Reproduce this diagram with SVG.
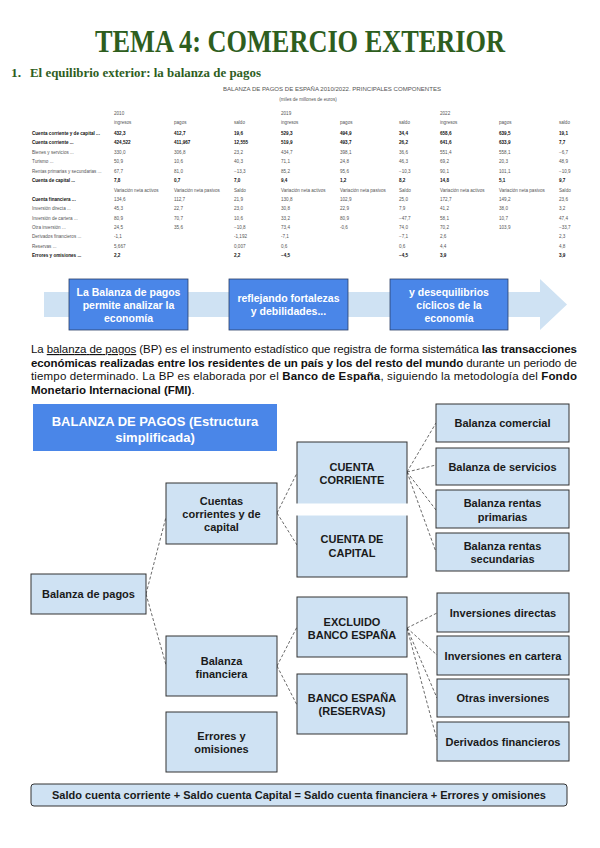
<svg xmlns="http://www.w3.org/2000/svg" width="600" height="848" viewBox="0 0 600 848">
<style>
.title{font-family:"Liberation Serif","DejaVu Serif",serif;font-weight:bold;fill:#2e5e1e}
.t{font-family:"Liberation Sans",Arial,sans-serif;font-size:4.6px;fill:#555}
.tb{font-weight:bold;fill:#111}
.p{font-family:"Liberation Sans",Arial,sans-serif;font-size:11.5px;fill:#111}
.b{font-weight:bold}
.wt{font-family:"Liberation Sans",Arial,sans-serif;font-size:10.5px;font-weight:bold;fill:#fff;text-anchor:middle}
.box{fill:#cfe2f3;stroke:#333;stroke-width:1}
.blue{fill:#4a86e8;stroke:#2b3f66;stroke-width:0.8}
.lbl{font-family:"Liberation Sans",Arial,sans-serif;font-size:11px;font-weight:bold;fill:#1a1a1a;text-anchor:middle}
.head{font-family:"Liberation Sans",Arial,sans-serif;font-size:13px;font-weight:bold;fill:#fff;text-anchor:middle}
.conn line{stroke:#444;stroke-width:0.8;stroke-dasharray:3 2;fill:none}
</style>
<rect width="600" height="848" fill="#fff"/>

<!-- Header -->
<text class="title" x="300" y="52" font-size="32" text-anchor="middle" textLength="410" lengthAdjust="spacingAndGlyphs">TEMA 4: COMERCIO EXTERIOR</text>
<text class="title" x="11" y="77" font-size="13.5">1.</text>
<text class="title" x="30" y="77" font-size="13.5" textLength="231" lengthAdjust="spacingAndGlyphs">El equilibrio exterior: la balanza de pagos</text>

<!-- Table -->
<g id="table">
<text class="t" x="332" y="91" font-size="5.2" text-anchor="middle" textLength="218" lengthAdjust="spacingAndGlyphs">BALANZA DE PAGOS DE ESPAÑA 2010/2022. PRINCIPALES COMPONENTES</text>
<text class="t" x="308" y="101" text-anchor="middle">(miles de millones de euros)</text>
<text class="t" y="114.5"><tspan x="114">2010</tspan><tspan x="281">2019</tspan><tspan x="440">2022</tspan></text>
<text class="t" y="124"><tspan x="114">ingresos</tspan><tspan x="174">pagos</tspan><tspan x="234">saldo</tspan><tspan x="281">ingresos</tspan><tspan x="340">pagos</tspan><tspan x="399">saldo</tspan><tspan x="440">ingresos</tspan><tspan x="499">pagos</tspan><tspan x="559">saldo</tspan></text>
<text class="t tb" y="134.5"><tspan x="32">Cuenta corriente y de capital ...</tspan><tspan x="114">432,3</tspan><tspan x="174">412,7</tspan><tspan x="234">19,6</tspan><tspan x="281">529,3</tspan><tspan x="340">494,9</tspan><tspan x="399">34,4</tspan><tspan x="440">658,6</tspan><tspan x="499">639,5</tspan><tspan x="559">19,1</tspan></text>
<text class="t tb" y="144"><tspan x="32">Cuenta corriente ...</tspan><tspan x="114">424,522</tspan><tspan x="174">411,967</tspan><tspan x="234">12,555</tspan><tspan x="281">519,9</tspan><tspan x="340">493,7</tspan><tspan x="399">26,2</tspan><tspan x="440">641,6</tspan><tspan x="499">633,9</tspan><tspan x="559">7,7</tspan></text>
<text class="t" y="154"><tspan x="32">Bienes y servicios ...</tspan><tspan x="114">330,0</tspan><tspan x="174">306,8</tspan><tspan x="234">23,2</tspan><tspan x="281">434,7</tspan><tspan x="340">398,1</tspan><tspan x="399">36,6</tspan><tspan x="440">551,4</tspan><tspan x="499">558,1</tspan><tspan x="559">−6,7</tspan></text>
<text class="t" y="163"><tspan x="32">Turismo ...</tspan><tspan x="114">50,9</tspan><tspan x="174">10,6</tspan><tspan x="234">40,3</tspan><tspan x="281">71,1</tspan><tspan x="340">24,8</tspan><tspan x="399">46,3</tspan><tspan x="440">69,2</tspan><tspan x="499">20,3</tspan><tspan x="559">48,9</tspan></text>
<text class="t" y="173"><tspan x="32">Rentas primarias y secundarias ...</tspan><tspan x="114">67,7</tspan><tspan x="174">81,0</tspan><tspan x="234">−13,3</tspan><tspan x="281">85,2</tspan><tspan x="340">95,6</tspan><tspan x="399">−10,3</tspan><tspan x="440">90,1</tspan><tspan x="499">101,1</tspan><tspan x="559">−10,9</tspan></text>
<text class="t tb" y="182"><tspan x="32">Cuenta de capital ...</tspan><tspan x="114">7,8</tspan><tspan x="174">0,7</tspan><tspan x="234">7,0</tspan><tspan x="281">9,4</tspan><tspan x="340">1,2</tspan><tspan x="399">8,2</tspan><tspan x="440">14,8</tspan><tspan x="499">5,1</tspan><tspan x="559">9,7</tspan></text>
<text class="t" y="191.5"><tspan x="114">Variación neta activos</tspan><tspan x="174">Variación neta pasivos</tspan><tspan x="234">Saldo</tspan><tspan x="281">Variación neta activos</tspan><tspan x="340">Variación neta pasivos</tspan><tspan x="399">Saldo</tspan><tspan x="440">Variación neta activos</tspan><tspan x="499">Variación neta pasivos</tspan><tspan x="559">Saldo</tspan></text>
<text class="t" y="200.5"><tspan x="32" class="tb">Cuenta financiera ...</tspan><tspan x="114">134,6</tspan><tspan x="174">112,7</tspan><tspan x="234">21,9</tspan><tspan x="281">130,8</tspan><tspan x="340">102,9</tspan><tspan x="399">25,0</tspan><tspan x="440">172,7</tspan><tspan x="499">149,2</tspan><tspan x="559">23,6</tspan></text>
<text class="t" y="210"><tspan x="32">Inversión directa ...</tspan><tspan x="114">45,3</tspan><tspan x="174">22,7</tspan><tspan x="234">23,0</tspan><tspan x="281">30,8</tspan><tspan x="340">22,9</tspan><tspan x="399">7,9</tspan><tspan x="440">41,2</tspan><tspan x="499">38,0</tspan><tspan x="559">3,2</tspan></text>
<text class="t" y="219.5"><tspan x="32">Inversión de cartera ...</tspan><tspan x="114">80,9</tspan><tspan x="174">70,7</tspan><tspan x="234">10,6</tspan><tspan x="281">33,2</tspan><tspan x="340">80,9</tspan><tspan x="399">−47,7</tspan><tspan x="440">58,1</tspan><tspan x="499">10,7</tspan><tspan x="559">47,4</tspan></text>
<text class="t" y="228.5"><tspan x="32">Otra inversión ...</tspan><tspan x="114">24,5</tspan><tspan x="174">35,6</tspan><tspan x="234">−10,8</tspan><tspan x="281">73,4</tspan><tspan x="340">-0,6</tspan><tspan x="399">74,0</tspan><tspan x="440">70,2</tspan><tspan x="499">103,9</tspan><tspan x="559">−33,7</tspan></text>
<text class="t" y="238"><tspan x="32">Derivados financieros ...</tspan><tspan x="114">-1,1</tspan><tspan x="234">-1,192</tspan><tspan x="281">-7,1</tspan><tspan x="399">−7,1</tspan><tspan x="440">2,6</tspan><tspan x="559">2,3</tspan></text>
<text class="t" y="247.5"><tspan x="32">Reservas ...</tspan><tspan x="114">5,667</tspan><tspan x="234">0,007</tspan><tspan x="281">0,6</tspan><tspan x="399">0,6</tspan><tspan x="440">4,4</tspan><tspan x="559">4,8</tspan></text>
<text class="t tb" y="257"><tspan x="32">Errores y omisiones ...</tspan><tspan x="114">2,2</tspan><tspan x="234">2,2</tspan><tspan x="281">−4,5</tspan><tspan x="399">−4,5</tspan><tspan x="440">3,9</tspan><tspan x="559">3,9</tspan></text>
</g>

<!-- Process arrow -->
<g id="process">
<polygon points="44,292 540,292 540,279 567,304.5 540,330 540,317 44,317" fill="#cfe2f3"/>
<g id="step1"><rect class="blue" x="69" y="279" width="119" height="51"/>
<text class="wt"><tspan x="128.5" y="296">La Balanza de pagos</tspan><tspan x="128.5" y="309">permite analizar la</tspan><tspan x="128.5" y="322">economía</tspan></text></g>
<g id="step2"><rect class="blue" x="229" y="279" width="119" height="51"/>
<text class="wt"><tspan x="288.5" y="302">reflejando fortalezas</tspan><tspan x="288.5" y="315">y debilidades...</tspan></text></g>
<g id="step3"><rect class="blue" x="390" y="279" width="118" height="51"/>
<text class="wt"><tspan x="449" y="296">y desequilibrios</tspan><tspan x="449" y="309">cíclicos de la</tspan><tspan x="449" y="322">economía</tspan></text></g>
</g>

<!-- Paragraph -->
<text class="p" x="31" y="353" textLength="546" lengthAdjust="spacing">La <tspan text-decoration="underline">balanza de pagos</tspan> (BP) es el instrumento estadístico que registra de forma sistemática <tspan class="b">las transacciones</tspan></text>
<text class="p" x="31" y="366.7" textLength="546" lengthAdjust="spacing"><tspan class="b">económicas realizadas entre los residentes de un país y los del resto del mundo</tspan> durante un periodo de</text>
<text class="p" x="31" y="380.3" textLength="546" lengthAdjust="spacing">tiempo determinado. La BP es elaborada por el <tspan class="b">Banco de España</tspan>, siguiendo la metodología del <tspan class="b">Fondo</tspan></text>
<text class="p" x="31" y="394"><tspan class="b">Monetario Internacional (FMI)</tspan>.</text>

<!-- Connectors -->
<g id="connectors" class="conn">
<line x1="146" y1="594" x2="166" y2="517"/>
<line x1="146" y1="594" x2="166" y2="665"/>
<line x1="277" y1="513" x2="297" y2="473"/>
<line x1="277" y1="513" x2="297" y2="545"/>
<line x1="407" y1="472" x2="436" y2="423"/>
<line x1="407" y1="472" x2="436" y2="465"/>
<line x1="407" y1="472" x2="436" y2="510"/>
<line x1="407" y1="472" x2="436" y2="552"/>
<line x1="277" y1="666" x2="297" y2="627"/>
<line x1="277" y1="666" x2="297" y2="705"/>
<line x1="407" y1="628" x2="437" y2="613"/>
<line x1="407" y1="628" x2="437" y2="655"/>
<line x1="407" y1="628" x2="437" y2="698"/>
<line x1="407" y1="628" x2="437" y2="740"/>
</g>

<!-- Nodes -->
<g id="n-title"><rect x="33" y="404" width="244" height="47" fill="#4a86e8"/>
<text class="head"><tspan x="155" y="426">BALANZA DE PAGOS (Estructura</tspan><tspan x="155" y="442">simplificada)</tspan></text></g>
<g id="n-bp"><rect class="box" x="31" y="574" width="115" height="40"/><text class="lbl" x="88.5" y="598">Balanza de pagos</text></g>
<g id="n-cuentas"><rect class="box" x="166" y="483" width="111" height="61"/><text class="lbl"><tspan x="221.5" y="505">Cuentas</tspan><tspan x="221.5" y="518">corrientes y de</tspan><tspan x="221.5" y="531">capital</tspan></text></g>
<g id="n-bf"><rect class="box" x="166" y="636" width="111" height="60"/><text class="lbl"><tspan x="221.5" y="665">Balanza</tspan><tspan x="221.5" y="678">financiera</tspan></text></g>
<g id="n-eo"><rect class="box" x="166" y="712" width="111" height="60"/><text class="lbl"><tspan x="221.5" y="740">Errores y</tspan><tspan x="221.5" y="753">omisiones</tspan></text></g>
<g id="n-cc"><rect class="box" x="297" y="442" width="110" height="66"/><text class="lbl"><tspan x="352" y="471">CUENTA</tspan><tspan x="352" y="484">CORRIENTE</tspan></text></g>
<g id="n-ck"><rect class="box" x="297" y="511" width="110" height="66"/><rect x="295" y="503.5" width="114" height="12" fill="#fff"/><text class="lbl"><tspan x="352" y="543">CUENTA DE</tspan><tspan x="352" y="557">CAPITAL</tspan></text></g>
<g id="n-ex"><rect class="box" x="297" y="597" width="110" height="60"/><text class="lbl"><tspan x="352" y="626">EXCLUIDO</tspan><tspan x="352" y="639">BANCO ESPAÑA</tspan></text></g>
<g id="n-be"><rect class="box" x="297" y="674" width="110" height="60"/><text class="lbl"><tspan x="352" y="702">BANCO ESPAÑA</tspan><tspan x="352" y="715">(RESERVAS)</tspan></text></g>
<g id="n-bc"><rect class="box" x="436" y="404" width="133" height="38"/><text class="lbl" x="502.5" y="427">Balanza comercial</text></g>
<g id="n-bs"><rect class="box" x="436" y="448" width="133" height="37"/><text class="lbl" x="502.5" y="470.5">Balanza de servicios</text></g>
<g id="n-brp"><rect class="box" x="436" y="490" width="133" height="38"/><text class="lbl"><tspan x="502.5" y="507">Balanza rentas</tspan><tspan x="502.5" y="521">primarias</tspan></text></g>
<g id="n-brs"><rect class="box" x="436" y="533" width="133" height="38"/><text class="lbl"><tspan x="502.5" y="550">Balanza rentas</tspan><tspan x="502.5" y="563">secundarias</tspan></text></g>
<g id="n-id"><rect class="box" x="437" y="593" width="132" height="39"/><text class="lbl" x="503" y="616.5">Inversiones directas</text></g>
<g id="n-ic"><rect class="box" x="437" y="636" width="132" height="39"/><text class="lbl" x="503" y="659.5">Inversiones en cartera</text></g>
<g id="n-oi"><rect class="box" x="437" y="679" width="132" height="38"/><text class="lbl" x="503" y="702">Otras inversiones</text></g>
<g id="n-df"><rect class="box" x="437" y="722" width="132" height="39"/><text class="lbl" x="503" y="745.5">Derivados financieros</text></g>
<g id="n-formula"><rect class="box" x="31" y="784" width="536" height="22" rx="3"/><text class="lbl" x="299" y="799" textLength="494" lengthAdjust="spacingAndGlyphs">Saldo cuenta corriente + Saldo cuenta Capital = Saldo cuenta financiera + Errores y omisiones</text></g>
</svg>
